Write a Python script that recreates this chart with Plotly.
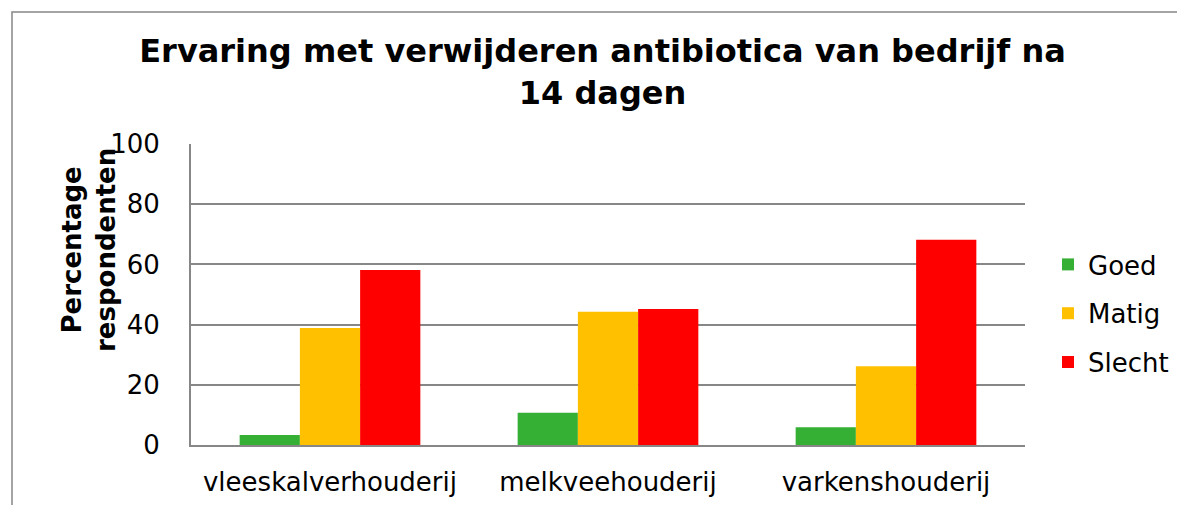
import plotly.graph_objects as go

categories = ["vleeskalverhouderij", "melkveehouderij", "varkenshouderij"]
goed = [3.3, 10.7, 5.9]
matig = [38.9, 44.3, 26.2]
slecht = [58.1, 45.2, 68.2]
series_names = ["Goed", "Matig", "Slecht"]
colors = ["#35B035", "#FFC000", "#FF0000"]
y_ticks = [0, 20, 40, 60, 80, 100]

FONT = "DejaVu Sans, Verdana, sans-serif"

fig = go.Figure()
for name, vals, col in zip(series_names, [goed, matig, slecht], colors):
    fig.add_trace(go.Bar(
        x=categories, y=vals, name=name, marker_color=col,
        marker_line_width=0, legendgroup=name,
    ))

OFF = 8  # page body margin
W, H = 1185, 505
# target screen positions of the plot area
SL, SR, ST, SB = 191, 1025, 144, 445
L = SL - OFF
T = ST - OFF
R = W - (SR - OFF)
B = H - (SB - OFF)
pw, ph = W - L - R, H - T - B


def px_x(sx):
    return (sx - OFF - L) / pw


def px_y(sy):
    return (H - B - (sy - OFF)) / ph


fig.update_layout(
    width=W, height=H,
    margin=dict(l=L, r=R, t=T, b=B, autoexpand=False),
    paper_bgcolor="white", plot_bgcolor="white",
    barmode="group", bargap=0.35, bargroupgap=0,
    font=dict(family=FONT, size=26, color="#000000"),
    title=dict(
        text="Ervaring met verwijderen antibiotica van bedrijf na<br>14 dagen",
        font=dict(family=FONT, size=32, color="#000000", weight="bold"),
        x=(602.5 - OFF) / W, xanchor="center", xref="container",
        y=1 - (62 - OFF) / H, yanchor="middle", yref="container",
    ),
    showlegend=True,
    legend=dict(
        x=px_x(1048), y=px_y(241), xanchor="left", yanchor="top",
        font=dict(family=FONT, size=26, color="#000000"),
        tracegroupgap=12, itemwidth=30, bgcolor="rgba(0,0,0,0)",
        traceorder="grouped",
    ),
    xaxis=dict(
        showline=True, linecolor="#878787", linewidth=2,
        showgrid=False, ticks="", tickfont=dict(size=26),
        ticklabelstandoff=13,
    ),
    yaxis=dict(
        range=[0, 100], tickvals=y_ticks, showgrid=True,
        gridcolor="#878787", gridwidth=1.5,
        showline=True, linecolor="#878787", linewidth=2,
        ticks="", tickfont=dict(size=26), ticklabelstandoff=24,
        zeroline=False,
    ),
)

fig.add_annotation(
    text="<b>Percentage<br>respondenten</b>", textangle=-90,
    xref="paper", yref="paper", x=px_x(89), y=px_y(250),
    xanchor="center", yanchor="middle", showarrow=False,
    font=dict(family=FONT, size=26, color="#000000"),
)

fig.add_shape(
    type="path", xref="paper", yref="paper",
    path=f"M {px_x(12)} {px_y(520)} L {px_x(12)} {px_y(12)} L {px_x(1200)} {px_y(12)}",
    line=dict(color="#878787", width=1.5),
)

fig.write_html("out.html")
